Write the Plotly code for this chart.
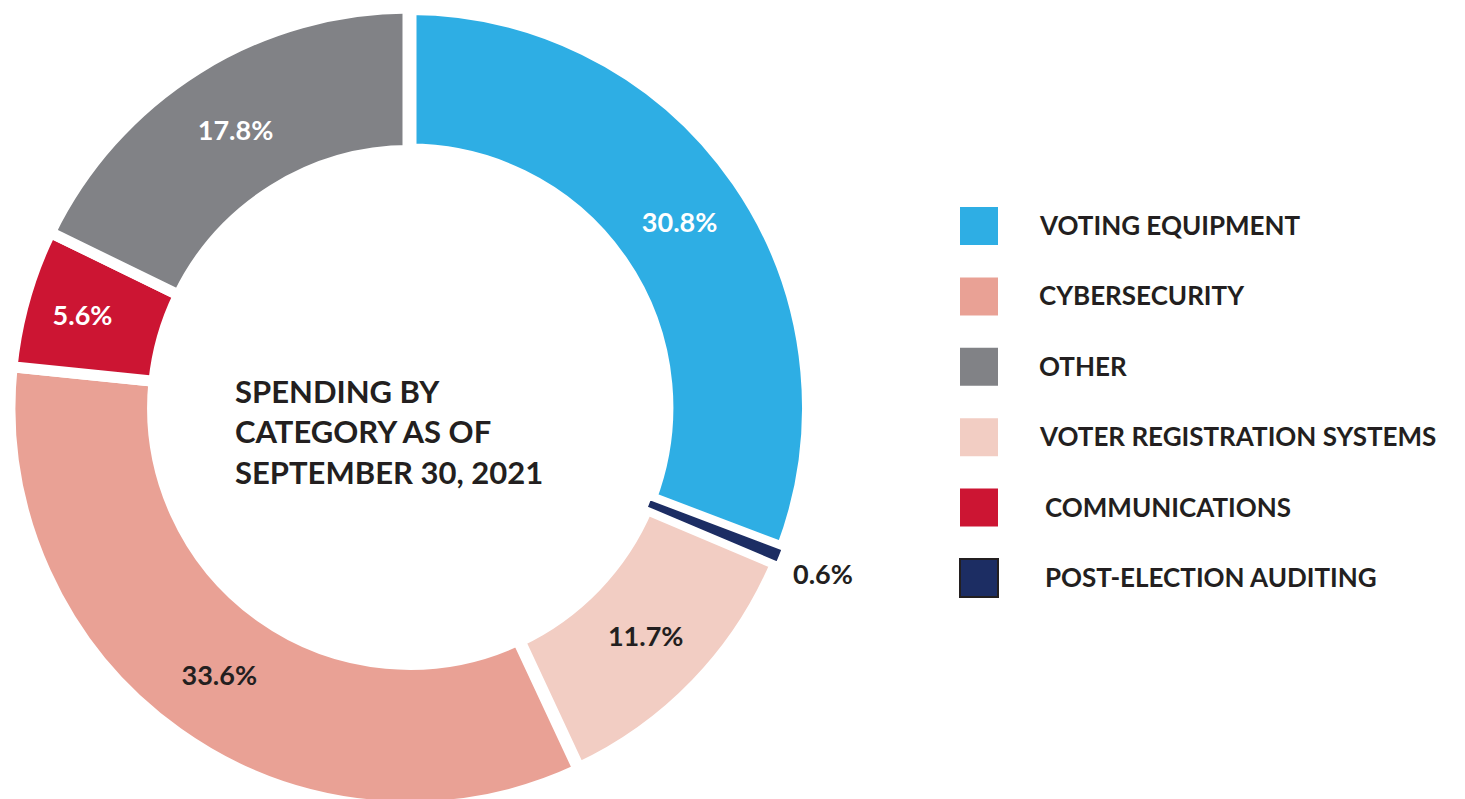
import math
import plotly.graph_objects as go

# Data (clockwise from 12 o'clock)
categories = ["VOTING EQUIPMENT", "POST-ELECTION AUDITING", "VOTER REGISTRATION SYSTEMS",
              "CYBERSECURITY", "COMMUNICATIONS", "OTHER"]
values = [30.8, 0.6, 11.7, 33.6, 5.6, 17.8]
colors = ["#2EAEE4", "#1C2D63", "#F2CDC3", "#E9A195", "#CC1533", "#818286"]
text_colors = ["white", "#231F20", "#231F20", "#231F20", "white", "white"]
outside_label = "POST-ELECTION AUDITING"

legend_order = ["VOTING EQUIPMENT", "CYBERSECURITY", "OTHER",
                "VOTER REGISTRATION SYSTEMS", "COMMUNICATIONS", "POST-ELECTION AUDITING"]
center_title = "SPENDING BY<br>CATEGORY AS OF<br>SEPTEMBER 30, 2021"

W, H = 1465, 799
OFF = 8  # page body margin
DARK = "#231F20"
FONT = "Lato"
CX, CY, R_OUT = 409.5, 407.5, 399.5  # pie centre / radius (page px)

# draw the thin navy slice last so its neighbours' gaps don't swallow it
start = 2  # begin drawing at VOTER REGISTRATION SYSTEMS
order = list(range(start, len(values))) + list(range(0, start))
total = sum(values)
rotation = 360 * sum(values[:start]) / total

stroke = {"VOTING EQUIPMENT": 14, "VOTER REGISTRATION SYSTEMS": 14, "POST-ELECTION AUDITING": 3}

o_labels = [categories[i] for i in order]
o_values = [values[i] for i in order]
o_colors = [colors[i] for i in order]
o_tcol = [text_colors[i] for i in order]
o_text = [f"{values[i]:.1f}%" for i in order]
o_tpos = ["none" if categories[i] == outside_label else "inside" for i in order]
o_lw = [stroke.get(categories[i], 11) for i in order]


def px(x):
    return (x - OFF) / W


def py(y):
    return 1 - (y - OFF) / H


fig = go.Figure(go.Pie(
    labels=o_labels, values=o_values, sort=False, direction="clockwise", rotation=rotation,
    hole=0.643,
    marker=dict(colors=o_colors, line=dict(color="white", width=o_lw)),
    text=o_text, textinfo="text", textposition=o_tpos,
    insidetextorientation="horizontal",
    textfont=dict(family=FONT, size=27, color=o_tcol, weight="bold"),
    domain=dict(x=[px(CX - R_OUT), px(CX + R_OUT)], y=[0.0, 1.0]),
    showlegend=False, hoverinfo="label+percent",
))

shapes, annotations = [], []

# outside label for the thin slice, placed at its mid-angle
k = categories.index(outside_label)
mid = 360 * (sum(values[:k]) + values[k] / 2) / total
ang = math.radians(mid)
r_lab = 1.115 * R_OUT
annotations.append(dict(xref="paper", yref="paper",
                        x=px(CX + r_lab * math.sin(ang)), y=py(CY - r_lab * math.cos(ang)),
                        xanchor="center", yanchor="middle", showarrow=False,
                        text=f"{values[k]:.1f}%",
                        font=dict(family=FONT, size=27, color=DARK, weight="bold")))

color_map = dict(zip(categories, colors))
for i, name in enumerate(legend_order):
    cy = 226 + i * 70.4
    is_nav = name == "POST-ELECTION AUDITING"
    shapes.append(dict(type="rect", xref="paper", yref="paper",
                       x0=px(960), x1=px(998), y0=py(cy - 19), y1=py(cy + 19),
                       fillcolor=color_map[name],
                       line=dict(color=DARK if is_nav else color_map[name],
                                 width=2 if is_nav else 0)))
    xoff = 1043 if name in ("COMMUNICATIONS", "POST-ELECTION AUDITING") else 1037
    annotations.append(dict(xref="paper", yref="paper", x=px(xoff), y=py(cy - 1),
                            xanchor="left", yanchor="middle", showarrow=False,
                            text=name, font=dict(family=FONT, size=26, color=DARK, weight="bold")))

annotations.append(dict(xref="paper", yref="paper", x=px(233), y=py(431),
                        xanchor="left", yanchor="middle", align="left", showarrow=False,
                        text=center_title,
                        font=dict(family=FONT, size=31, color=DARK, weight="bold")))

fig.update_layout(width=W, height=H, margin=dict(l=0, r=0, t=0, b=0),
                  paper_bgcolor="white", plot_bgcolor="white",
                  shapes=shapes, annotations=annotations)

fig.write_html("out.html")
